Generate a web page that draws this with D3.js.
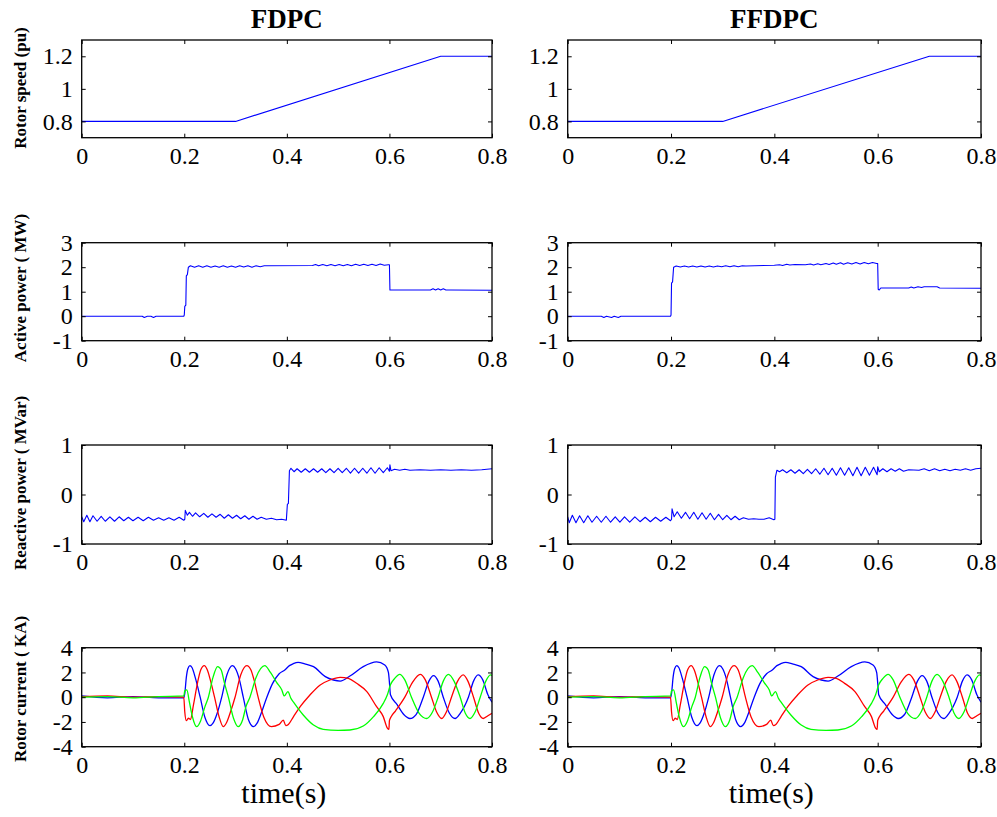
<!DOCTYPE html>
<html>
<head>
<meta charset="utf-8">
<script src="https://cdn.jsdelivr.net/npm/d3@7"></script>
<style>
  html, body { margin: 0; padding: 0; background: #fff; }
  svg { display: block; }
  text { font-family: "Liberation Serif", "Times New Roman", serif; fill: #000; }
</style>
</head>
<body>
<svg id="chart" width="997" height="817"></svg>
<script>
// ---------------- DATA ----------------
const columnTitles = ["FDPC", "FFDPC"];
const rowLabels = ["Rotor speed (pu)", "Active power ( MW)", "Reactive power ( MVar)", "Rotor current ( KA)"];
const xTicks = [0, 0.2, 0.4, 0.6, 0.8];
const xTickLabels = ["0", "0.2", "0.4", "0.6", "0.8"];
const speedTicks = [0.8, 1, 1.2];
const speedTickLabels = ["0.8", "1", "1.2"];
const activeTicks = [-1, 0, 1, 2, 3];
const activeTickLabels = ["-1", "0", "1", "2", "3"];
const reactiveTicks = [-1, 0, 1];
const reactiveTickLabels = ["-1", "0", "1"];
const currentTicks = [-4, -2, 0, 2, 4];
const currentTickLabels = ["-4", "-2", "0", "2", "4"];
const xLabel = "time(s)";

// rotor speed (pu), same for both controllers
const speedFDPC = [[0,0.8],[0.3,0.8],[0.7,1.2],[0.8,1.2]];
const speedFFDPC = [[0,0.8],[0.3,0.8],[0.7,1.2],[0.8,1.2]];

// active power (MW)
const activeFDPC = [[0,0],[0.05,0],[0.1,0],[0.118,0],[0.122,-0.05],[0.128,0],[0.135,0],[0.14,-0.05],[0.145,0],[0.199,0],
 [0.2,0.05],[0.201,0.4],[0.203,0.45],[0.204,1.65],[0.206,1.7],[0.208,2.0],[0.212,2.06],[0.22,2.0],[0.228,2.06],[0.236,2.0],
 [0.244,2.06],[0.252,2.0],[0.26,2.05],[0.268,2.0],[0.276,2.06],[0.284,2.0],[0.292,2.05],[0.3,2.0],[0.308,2.06],[0.316,2.01],
 [0.324,2.06],[0.332,2.0],[0.34,2.06],[0.348,2.02],[0.356,2.06],[0.36,2.06],[0.45,2.07],[0.456,2.11],[0.462,2.06],[0.47,2.11],
 [0.478,2.06],[0.486,2.11],[0.494,2.06],[0.502,2.11],[0.51,2.06],[0.518,2.11],[0.526,2.06],[0.534,2.12],[0.542,2.07],[0.55,2.12],
 [0.558,2.07],[0.566,2.12],[0.574,2.07],[0.582,2.13],[0.59,2.08],[0.598,2.1],[0.6,2.1],[0.601,1.07],[0.68,1.07],[0.685,1.12],
 [0.69,1.07],[0.695,1.12],[0.7,1.07],[0.705,1.12],[0.71,1.07],[0.72,1.07],[0.8,1.06]];
const activeFFDPC = [[0,0],[0.065,0],[0.07,-0.05],[0.075,0],[0.085,-0.05],[0.09,0],[0.098,-0.05],[0.103,0],[0.199,0],
 [0.2,0.05],[0.201,1.35],[0.203,1.4],[0.205,2.0],[0.21,2.05],[0.218,2.01],[0.226,2.05],[0.234,2.01],[0.242,2.05],[0.25,2.01],
 [0.258,2.05],[0.266,2.01],[0.274,2.05],[0.282,2.01],[0.29,2.05],[0.298,2.02],[0.306,2.06],[0.314,2.02],[0.322,2.06],[0.33,2.02],
 [0.338,2.06],[0.345,2.05],[0.4,2.08],[0.41,2.1],[0.416,2.07],[0.424,2.12],[0.43,2.09],[0.44,2.11],[0.46,2.1],[0.47,2.13],
 [0.476,2.09],[0.484,2.14],[0.49,2.1],[0.5,2.15],[0.506,2.11],[0.514,2.17],[0.52,2.12],[0.528,2.18],[0.534,2.12],[0.542,2.18],
 [0.55,2.13],[0.558,2.19],[0.566,2.13],[0.574,2.19],[0.582,2.14],[0.59,2.19],[0.598,2.15],[0.6,2.15],[0.601,1.1],[0.603,1.07],
 [0.606,1.15],[0.66,1.15],[0.665,1.19],[0.67,1.15],[0.678,1.2],[0.685,1.17],[0.69,1.2],[0.715,1.2],[0.72,1.15],[0.8,1.14]];

// reactive power (MVar)
const reactiveFDPC = [[0,-0.45],[0.004,-0.55],[0.01,-0.42],[0.016,-0.55],[0.022,-0.43],[0.03,-0.54],[0.038,-0.44],[0.046,-0.54],
 [0.055,-0.45],[0.064,-0.54],[0.073,-0.45],[0.082,-0.53],[0.091,-0.46],[0.1,-0.53],[0.11,-0.46],[0.12,-0.53],[0.13,-0.46],
 [0.14,-0.52],[0.15,-0.47],[0.16,-0.52],[0.17,-0.47],[0.18,-0.52],[0.19,-0.46],[0.199,-0.52],[0.201,-0.5],[0.202,-0.32],
 [0.206,-0.42],[0.21,-0.36],[0.216,-0.44],[0.222,-0.37],[0.23,-0.45],[0.238,-0.38],[0.246,-0.46],[0.254,-0.39],[0.262,-0.46],
 [0.27,-0.4],[0.278,-0.48],[0.286,-0.41],[0.294,-0.48],[0.302,-0.42],[0.31,-0.49],[0.318,-0.43],[0.326,-0.5],[0.334,-0.44],
 [0.342,-0.5],[0.35,-0.46],[0.36,-0.5],[0.37,-0.48],[0.38,-0.51],[0.39,-0.5],[0.399,-0.52],[0.401,-0.2],[0.403,-0.18],
 [0.405,0.48],[0.408,0.53],[0.414,0.46],[0.42,0.52],[0.428,0.45],[0.436,0.52],[0.444,0.45],[0.452,0.52],[0.46,0.45],
 [0.468,0.52],[0.476,0.44],[0.484,0.52],[0.492,0.44],[0.5,0.53],[0.508,0.44],[0.516,0.53],[0.524,0.43],[0.532,0.53],
 [0.54,0.43],[0.548,0.53],[0.556,0.43],[0.564,0.54],[0.572,0.43],[0.58,0.54],[0.588,0.44],[0.596,0.54],[0.6,0.47],
 [0.601,0.6],[0.603,0.48],[0.61,0.51],[0.62,0.49],[0.63,0.51],[0.64,0.49],[0.66,0.5],[0.68,0.49],[0.7,0.5],[0.72,0.49],
 [0.74,0.5],[0.76,0.49],[0.78,0.5],[0.8,0.52]];
const reactiveFFDPC = [[0,-0.45],[0.003,-0.57],[0.009,-0.42],[0.016,-0.57],[0.023,-0.43],[0.031,-0.57],[0.039,-0.43],
 [0.047,-0.56],[0.056,-0.44],[0.065,-0.56],[0.074,-0.44],[0.083,-0.56],[0.092,-0.45],[0.101,-0.56],[0.11,-0.45],[0.12,-0.56],
 [0.13,-0.45],[0.14,-0.55],[0.15,-0.46],[0.16,-0.55],[0.17,-0.46],[0.18,-0.54],[0.19,-0.46],[0.199,-0.53],[0.201,-0.5],
 [0.202,-0.29],[0.206,-0.45],[0.212,-0.35],[0.22,-0.48],[0.228,-0.36],[0.236,-0.49],[0.244,-0.36],[0.252,-0.5],[0.26,-0.37],
 [0.268,-0.5],[0.276,-0.38],[0.284,-0.51],[0.292,-0.4],[0.3,-0.51],[0.308,-0.42],[0.316,-0.51],[0.324,-0.44],[0.332,-0.51],
 [0.34,-0.47],[0.35,-0.5],[0.36,-0.49],[0.37,-0.5],[0.38,-0.5],[0.39,-0.47],[0.399,-0.51],[0.401,-0.5],[0.402,0.35],
 [0.405,0.49],[0.41,0.46],[0.416,0.5],[0.424,0.44],[0.432,0.5],[0.44,0.43],[0.448,0.5],[0.456,0.42],[0.464,0.51],
 [0.472,0.42],[0.48,0.52],[0.488,0.41],[0.496,0.53],[0.504,0.4],[0.512,0.53],[0.52,0.39],[0.528,0.54],[0.536,0.39],
 [0.544,0.54],[0.552,0.38],[0.56,0.55],[0.568,0.38],[0.576,0.55],[0.584,0.39],[0.592,0.55],[0.599,0.4],[0.6,0.56],
 [0.603,0.46],[0.61,0.52],[0.618,0.46],[0.626,0.52],[0.634,0.47],[0.642,0.52],[0.65,0.47],[0.66,0.5],[0.68,0.49],
 [0.69,0.52],[0.7,0.48],[0.71,0.52],[0.72,0.48],[0.73,0.51],[0.74,0.48],[0.75,0.51],[0.76,0.49],[0.77,0.52],[0.78,0.49],
 [0.79,0.52],[0.8,0.53]];

// rotor three-phase currents (KA)
const currentA = [[0,0.1],[0.05,-0.05],[0.1,0.05],[0.15,-0.05],[0.199,-0.05],[0.201,0.3],[0.204,1.6],[0.207,2.3],[0.211,2.55],
 [0.215,2.4],[0.222,1.5],[0.231,0],[0.24,-1.6],[0.25,-2.3],[0.256,-2.1],[0.265,-1.2],[0.273,0],[0.283,1.8],[0.294,2.55],
 [0.3,2.3],[0.307,1.5],[0.315,0],[0.325,-1.8],[0.335,-2.38],[0.342,-2.1],[0.35,-1.3],[0.361,0],[0.372,1.1],[0.385,1.9],
 [0.396,2.2],[0.405,2.55],[0.412,2.7],[0.422,2.82],[0.435,2.7],[0.452,2.47],[0.475,1.66],[0.491,1.39],[0.504,1.3],
 [0.523,1.71],[0.549,2.47],[0.575,2.85],[0.591,2.6],[0.598,2.0],[0.6,1.2],[0.602,0.2],[0.615,-0.6],[0.628,-1.4],
 [0.64,-1.72],[0.652,-1.4],[0.666,0],[0.677,1.3],[0.686,1.75],[0.695,1.3],[0.705,0],[0.717,-1.3],[0.728,-1.72],
 [0.738,-1.3],[0.754,0],[0.764,1.3],[0.773,1.8],[0.782,1.4],[0.792,0.2],[0.8,-0.4]];
const currentB = [[0,0.05],[0.05,0.1],[0.1,0],[0.15,0.05],[0.199,0],[0.201,-1.2],[0.204,-1.9],[0.208,-1.7],[0.212,-1.8],
 [0.218,-0.6],[0.226,1.2],[0.232,2.2],[0.239,2.55],[0.245,2.2],[0.252,1.2],[0.259,0],[0.268,-1.6],[0.276,-2.38],
 [0.283,-2.0],[0.29,-1.2],[0.299,0],[0.31,1.8],[0.322,2.55],[0.33,2.2],[0.336,1.4],[0.344,0],[0.355,-1.6],[0.37,-2.38],
 [0.385,-2.2],[0.393,-1.85],[0.398,-2.3],[0.403,-2.2],[0.413,-1.57],[0.426,-0.77],[0.445,0.18],[0.465,0.99],[0.484,1.39],
 [0.504,1.6],[0.52,1.52],[0.536,1.12],[0.556,0.45],[0.575,-0.77],[0.588,-1.57],[0.596,-2.5],[0.599,-2.6],[0.6,-1.9],
 [0.603,-1.6],[0.612,-1.1],[0.63,0],[0.645,1.2],[0.66,1.85],[0.67,1.4],[0.682,0],[0.692,-1.2],[0.702,-1.72],[0.711,-1.2],
 [0.721,0],[0.733,1.3],[0.744,1.8],[0.753,1.3],[0.764,0],[0.774,-1.3],[0.783,-1.72],[0.792,-1.5],[0.8,-1.3]];
const currentC = [[0,0],[0.05,0.05],[0.1,-0.05],[0.15,0.05],[0.199,0.1],[0.201,0.5],[0.205,0.6],[0.21,-0.4],[0.216,-1.6],
 [0.224,-2.38],[0.232,-1.9],[0.24,-0.8],[0.247,0],[0.256,1.6],[0.265,2.47],[0.272,2.2],[0.278,1.2],[0.286,0],[0.296,-1.7],
 [0.305,-2.38],[0.314,-1.8],[0.32,-0.8],[0.328,0],[0.34,1.6],[0.357,2.55],[0.368,2.0],[0.38,1.2],[0.39,0.6],[0.395,0.1],
 [0.402,0.45],[0.408,-0.1],[0.413,-0.4],[0.432,-1.44],[0.452,-2.25],[0.471,-2.6],[0.5,-2.68],[0.523,-2.65],[0.549,-2.33],
 [0.569,-1.57],[0.588,-0.5],[0.596,0.2],[0.602,1.0],[0.61,1.5],[0.62,1.85],[0.63,1.4],[0.643,0],[0.658,-1.3],[0.673,-1.72],
 [0.684,-1.2],[0.695,0],[0.705,1.3],[0.715,1.85],[0.726,1.3],[0.738,0],[0.748,-1.3],[0.757,-1.72],[0.767,-1.2],[0.777,0],
 [0.788,1.3],[0.797,1.8],[0.8,1.75]];

const seriesColors = ["#0000ff", "#ff0000", "#00ff00"];

// ---------------- LAYOUT ----------------
const FONT = '"Liberation Serif", "Times New Roman", serif';
const svg = d3.select("#chart");
const colX = [[81.7, 492], [567.7, 981]];
const rowY = [[40, 137.7], [242.7, 340.7], [445, 544], [647.7, 746.7]];
const rowLabelY = [88, 288, 483, 689];
const rowDomains = [[0.7, 1.3], [-1, 3], [-1, 1], [-4, 4]];
const rowTicks = [speedTicks, activeTicks, reactiveTicks, currentTicks];
const rowTickLabels = [speedTickLabels, activeTickLabels, reactiveTickLabels, currentTickLabels];
const rowData = [
  [[speedFDPC], [speedFFDPC]],
  [[activeFDPC], [activeFFDPC]],
  [[reactiveFDPC], [reactiveFFDPC]],
  [[currentA, currentB, currentC], [currentA, currentB, currentC]]
];

const defs = svg.append("defs");

for (let c = 0; c < 2; c++) {
  const x = d3.scaleLinear().domain([0, 0.8]).range(colX[c]);
  for (let r = 0; r < 4; r++) {
    const y = d3.scaleLinear().domain(rowDomains[r]).range([rowY[r][1], rowY[r][0]]);
    const g = svg.append("g");
    const clipId = `clip-${c}-${r}`;
    defs.append("clipPath").attr("id", clipId).append("rect")
      .attr("x", colX[c][0]).attr("y", rowY[r][0])
      .attr("width", colX[c][1] - colX[c][0]).attr("height", rowY[r][1] - rowY[r][0]);

    const line = d3.line().x(d => x(d[0])).y(d => y(d[1]));
    if (r === 3) line.curve(d3.curveMonotoneX);
    const series = rowData[r][c];
    const lg = g.append("g").attr("clip-path", `url(#${clipId})`);
    series.forEach((s, i) => {
      lg.append("path").datum(s)
        .attr("d", line)
        .attr("fill", "none")
        .attr("stroke", seriesColors[i])
        .attr("stroke-width", r === 3 ? 1.3 : 1.1)
        .attr("stroke-linejoin", "round");
    });

    const labels = rowTickLabels[r];
    const ticks = rowTicks[r];
    const bottom = g.append("g").attr("transform", `translate(0,${rowY[r][1]})`)
      .call(d3.axisBottom(x).tickValues(xTicks).tickSizeInner(-4).tickSizeOuter(0).tickPadding(9)
        .tickFormat((d, i) => xTickLabels[i]));
    const top = g.append("g").attr("transform", `translate(0,${rowY[r][0]})`)
      .call(d3.axisTop(x).tickValues(xTicks).tickSizeInner(-4).tickSizeOuter(0).tickFormat(""));
    const left = g.append("g").attr("transform", `translate(${colX[c][0]},0)`)
      .call(d3.axisLeft(y).tickValues(ticks).tickSizeInner(-4).tickSizeOuter(0).tickPadding(9)
        .tickFormat((d, i) => labels[i]));
    const right = g.append("g").attr("transform", `translate(${colX[c][1]},0)`)
      .call(d3.axisRight(y).tickValues(ticks).tickSizeInner(-4).tickSizeOuter(0).tickFormat(""));
    [bottom, top, left, right].forEach(a => {
      a.attr("font-family", FONT).attr("font-size", 24);
      a.select(".domain").remove();
      a.selectAll("line").attr("stroke", "#000").attr("stroke-width", 1);
      a.selectAll("text").style("font-family", FONT).style("font-size", "24px").attr("fill", "#000");
    });

    g.append("rect")
      .attr("x", colX[c][0]).attr("y", rowY[r][0])
      .attr("width", colX[c][1] - colX[c][0]).attr("height", rowY[r][1] - rowY[r][0])
      .attr("fill", "none").attr("stroke", "#000").attr("stroke-width", 1.3);

    if (c === 0) {
      svg.append("text")
        .attr("transform", `translate(26,${rowLabelY[r]}) rotate(-90)`)
        .attr("text-anchor", "middle")
        .style("font-size", "17px").style("font-weight", "bold")
        .text(rowLabels[r]);
    }
  }
  svg.append("text")
    .attr("x", (colX[c][0] + colX[c][1]) / 2).attr("y", 28)
    .attr("text-anchor", "middle")
    .style("font-size", "27px").style("font-weight", "bold")
    .text(columnTitles[c]);
  svg.append("text")
    .attr("x", (colX[c][0] + colX[c][1]) / 2 - 3).attr("y", 803)
    .attr("text-anchor", "middle")
    .style("font-size", "30px")
    .text(xLabel);
}
</script>
</body>
</html>
